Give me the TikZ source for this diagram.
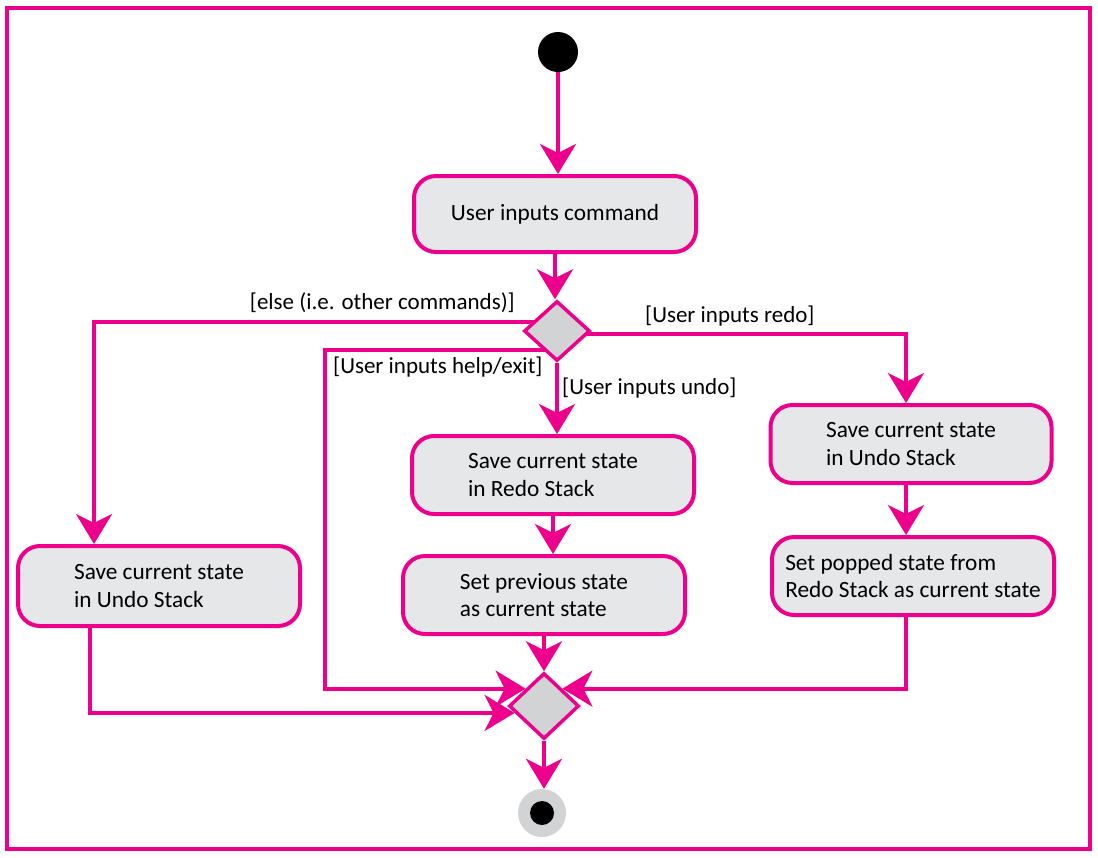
\documentclass[tikz,border=0pt]{standalone}
\usepackage{fontspec}
\setmainfont{Carlito}
\usetikzlibrary{shapes.geometric,arrows.meta,calc,backgrounds}
\definecolor{pk}{HTML}{EC008C}
\definecolor{boxg}{HTML}{E6E7E8}
\definecolor{dg}{HTML}{D1D3D4}
\begin{document}
\begin{tikzpicture}[x=1pt,y=-1pt,
 act/.style={draw=pk, line width=4pt, fill=boxg, rounded corners=22pt, minimum width=282pt, minimum height=78pt, font=\fontsize{23.3}{27.5}\selectfont, align=left, inner sep=0pt},
 dec/.style={diamond, draw=pk, line width=3.5pt, fill=dg, minimum width=66pt, minimum height=60pt, inner sep=0pt},
 flow/.style={draw=pk, line width=4pt, -{Stealth[length=30pt,width=36pt,inset=9pt]}},
 guard/.style={font=\fontsize{23}{26}\selectfont, inner sep=0pt}
]
\useasboundingbox (0,0) rectangle (1098,857);
\node[draw=pk, line width=4pt, minimum width=1083pt, minimum height=841pt, inner sep=0pt] (frame) at (548.5,428.5) {};

\node[circle, fill=black, minimum size=40pt, inner sep=0pt] (start) at (558,52) {};
\node[act, minimum height=76pt] (cmd) at (555,214) {User inputs command};
\node[dec] (dec1) at (557,331) {};
\node[act] (sr) at (553,475) {Save current state\\in Redo Stack};
\node[act] (prev) at (544,595) {Set previous state\\as current state};
\node[act, minimum width=281pt] (ru) at (911,444) {Save current state\\in Undo Stack};
\node[act] (pop) at (913,576) {Set popped state from\\Redo Stack as current state};
\node[act, minimum height=80pt] (lu) at (159,586) {Save current state\\in Undo Stack};
\node[dec, minimum width=70pt, minimum height=66pt] (merge) at (544,706) {};
\node[circle, fill=dg, minimum size=48pt, inner sep=0pt] (end) at (542,813) {};
\node[circle, fill=black, minimum size=24pt, inner sep=0pt] (endin) at (end) {};

\node[guard, anchor=east] (gelse) at (515,303) {[else (i.e. other commands)]};
\node[guard, anchor=west] (ghelp) at (333,367) {[User inputs help/exit]};
\node[guard, anchor=west] (gundo) at (562,388) {[User inputs undo]};
\node[guard, anchor=west] (gredo) at (645,316) {[User inputs redo]};

\coordinate (elsec) at (94,322);
\coordinate (h1) at (325,350);
\coordinate (r1) at (906,334);
\coordinate (l1) at (90,716);

\begin{scope}[on background layer]
\draw[flow] (start) -- (start |- cmd.north);
\draw[flow] (cmd.south) -- (cmd.south |- dec1.north);
\draw[flow] ($(dec1.center)+(0,-9)$) -- (elsec) -- (elsec |- lu.north);
\draw[flow] ($(dec1.center)+(0,19)$) -- (h1) |- (merge.north west);
\draw[flow] (dec1.south) -- (dec1.south |- sr.north);
\draw[flow] ($(dec1.center)+(0,3)$) -- (r1) -- (r1 |- ru.north);
\draw[flow] (sr.south) -- (sr.south |- prev.north);
\draw[flow] (r1 |- ru.south) -- (r1 |- pop.north);
\draw[flow] (prev.south) -- (prev.south |- merge.north);
\draw[flow] (l1 |- lu.south) |- ($(merge.west)!0.4!(merge.south west)$);
\draw[flow] (r1 |- pop.south) |- (merge.north east);
\draw[flow] (merge.south) -- (merge.south |- end.north);
\end{scope}
\end{tikzpicture}
\end{document}
